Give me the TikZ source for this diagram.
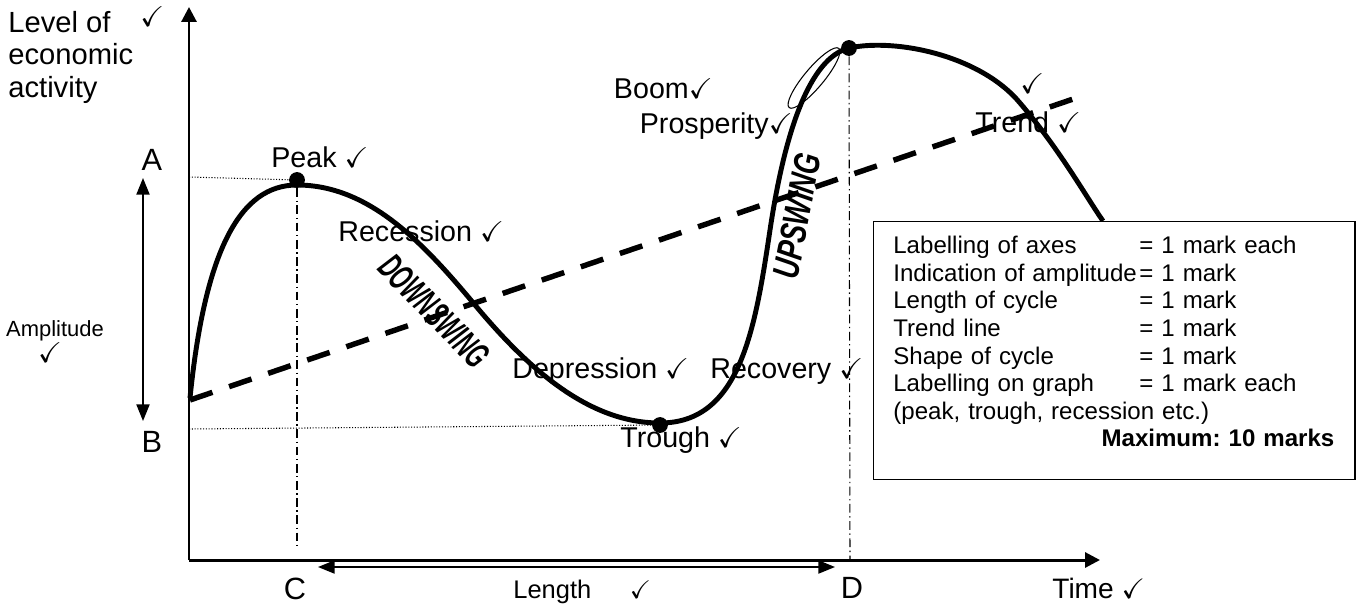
\documentclass[tikz,border=0pt]{standalone}
\usepackage{fontspec}
\setmainfont{Liberation Sans}
\usepackage{amssymb}
\usetikzlibrary{arrows.meta,shapes.geometric}
\newcommand{\ck}{$\checkmark$}
\newcommand{\mrow}[2]{\makebox[140pt][l]{#1}#2}

\begin{document}
\begin{tikzpicture}[x=0.02cm,y=-0.02cm]
        \tikzset{
            lbl/.style={font=\fontsize{16.3}{19}\selectfont, inner sep=0, anchor=base west},
            big/.style={font=\fontsize{17.5}{20}\selectfont, inner sep=0, anchor=base},
            dot/.style={circle, fill=black, inner sep=0, minimum size=9pt},
            axis/.style={line width=1.7pt, -{Triangle[length=8.5pt,width=8.5pt]}},
            span/.style={line width=0.9pt, {Triangle[length=9.5pt,width=7.5pt]}-{Triangle[length=9.5pt,width=7.5pt]}},
            cycle/.style={line width=2.8pt},
            trend/.style={line width=3.1pt, dash pattern=on 13.5pt off 10pt},
            guide/.style={line width=0.6pt, densely dotted},
            drop/.style={line width=0.6pt, dash pattern=on 5pt off 2pt on 0.8pt off 2pt},
            swing/.style={font=\fontsize{21}{23}\selectfont\bfseries\itshape, inner sep=0}
            }
            \useasboundingbox (0,0) rectangle (1362,605);

            % axes
            \coordinate (O) at (189,560);
            \coordinate (ytop) at (189,7);
            \coordinate (xend) at (1100,560);
            \draw[axis] (O) -- (ytop);
            \draw[axis] (O) -- (xend);

            % the cycle
            \coordinate (c0) at (190,398);
            \coordinate (pk) at (297,185);
            \coordinate (c1) at (475,305);
            \coordinate (tr) at (660,423);
            \coordinate (c2) at (770,230);
            \coordinate (bm) at (849,48);
            \coordinate (c3) at (1020,103);
            \coordinate (cend) at (1103,221);
            \draw[cycle] (c0) .. controls (205,250) and (240,185) .. (pk)
                .. controls (370,185) and (425,245) .. (c1)
                .. controls (530,371) and (590,423) .. (tr)
                .. controls (740,423) and (755,330) .. (c2)
                .. controls (785,130) and (810,58) .. (bm)
                .. controls (895,38) and (980,55) .. (c3)
                .. controls (1060,150) and (1085,195) .. (cend);

            % trend line
            \coordinate (t0) at (190,400);
            \coordinate (t1) at (1082,96);
            \draw[trend] (t0) -- (t1);

            \node[dot] (peak) at (297,180) {};
            \node[dot] (trough) at (660,425) {};
            \node[dot] (boom) at (849,48) {};
            \node[draw, ellipse, line width=0.6pt, inner sep=0, minimum width=44pt, minimum height=11pt, rotate=50] (ring) at (814,78) {};

            \coordinate (A0) at (189,177);
            \coordinate (B0) at (189,429);
            \coordinate (C0) at (297,545);
            \coordinate (D0) at (850,560);
            \draw[guide] (A0) -- (peak);
            \draw[guide] (B0) -- (trough);
            \draw[drop] (peak) -- (C0);
            \draw[drop] (boom) -- (D0);

            % amplitude and length
            \coordinate (amp1) at (143,178);
            \coordinate (amp2) at (143,421);
            \coordinate (len1) at (318,567);
            \coordinate (len2) at (835,567);
            \draw[span] (amp1) -- (amp2);
            \draw[span] (len1) -- (len2);

            \node[font=\fontsize{16.6}{18.4}\selectfont, align=left, anchor=north west, inner sep=0] (level) at (8,11) {Level of\\economic\\activity};
            \node[lbl] (levelck) at (140,27) {\ck};
            \node[big] (A) at (152,170) {A};
            \node[big] (B) at (152,452) {B};
            \node[big] (C) at (295,599) {C};
            \node[big] (D) at (852,598) {D};
            \node[font=\fontsize{12.5}{15}\selectfont, inner sep=0, anchor=base] (amp) at (55,336) {Amplitude};
            \node[lbl, anchor=base] (ampck) at (50,362) {\ck};
            \node[lbl, font=\fontsize{14.5}{17}\selectfont] (len) at (513,598) {Length\hspace{22pt}\ck};
            \node[lbl, font=\fontsize{16}{19}\selectfont] (time) at (1052,598) {Time~\ck};

            \node[lbl] (peaklbl) at (271,167) {Peak~\ck};
            \node[lbl] (rec) at (338,241) {Recession~\ck};
            \node[lbl] (dep) at (512,378) {Depression~\ck};
            \node[lbl] (recov) at (710,378) {Recovery~\ck};
            \node[lbl] (troughlbl) at (620,447) {Trough~\ck};
            \node[lbl, anchor=base east] (boomlbl) at (713,98) {Boom\ck};
            \node[lbl, anchor=base east] (prosp) at (793,133) {Prosperity\ck};
            \node[lbl] (trendlbl) at (975,132) {Trend~\ck};
            \node[lbl] (trendck) at (1020,93) {\ck};

            \node[swing, rotate=-46] (down) at (434,311) {\scalebox{0.58}[1]{DOWNSWING}};
            \node[swing, rotate=79] (up) at (797,216) {\scalebox{0.72}[1]{UPSWING}};

            % marking guide
            \node[draw, fill=white, line width=0.8pt, inner sep=0, minimum width=274pt, minimum height=146.8pt, anchor=north west] (marks) at (873,221) {};
            \node[font=\fontsize{13.7}{15.7}\selectfont\frenchspacing, text width=251pt, align=left, inner sep=0, anchor=north west] (markstext) at (893,236) {%
                \mrow{Labelling of axes}{= 1 mark each}\\
                \mrow{Indication of amplitude}{= 1 mark}\\
                \mrow{Length of cycle}{= 1 mark}\\
                \mrow{Trend line}{= 1 mark}\\
                \mrow{Shape of cycle}{= 1 mark}\\
                \mrow{Labelling on graph}{= 1 mark each}\\
                (peak, trough, recession etc.)\\
                \hspace*{\fill}\textbf{Maximum: 10 marks}};
        \end{tikzpicture}
\end{document}
